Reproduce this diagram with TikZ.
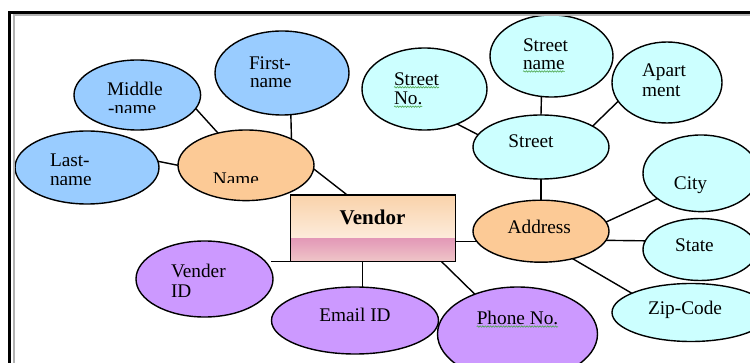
\documentclass[tikz,border=0pt]{standalone}
\usepackage{fontspec}
\setmainfont{Liberation Serif}
\usetikzlibrary{shapes.geometric,decorations.pathmorphing,calc}
\definecolor{cblue}{HTML}{99CCFF}
\definecolor{ccyan}{HTML}{CCFFFF}
\definecolor{corange}{HTML}{FCCA96}
\definecolor{cpurple}{HTML}{CC99FF}
\definecolor{vpeach}{HTML}{F9D2AA}
\definecolor{vwhite}{HTML}{FFFAF6}
\definecolor{vpink}{HTML}{E398B7}
\definecolor{vpinklt}{HTML}{EFC6C8}
\definecolor{squigc}{HTML}{4CA64C}
\newcommand\lbfont{\fontsize{19.3}{21}\selectfont}
\newcommand\vbfont{\fontsize{21}{23}\selectfont\bfseries}
\begin{document}
\begin{tikzpicture}[x=1pt,y=-1pt,
  attr/.style={draw=black, ellipse, line width=1.4pt, inner sep=0pt, outer sep=0pt},
  conn/.style={draw=black, line width=1.4pt},
  lbl/.style={inner sep=0pt, outer sep=0pt, font=\lbfont, text=black},
  squig/.style={draw=squigc, line width=0.6pt, decorate,
    decoration={snake, amplitude=0.7pt, segment length=2.6pt}},
  frameblack/.style={draw=black, line width=2.6pt},
  framegray/.style={draw=black!30, line width=1.6pt}]
\useasboundingbox (0,0) rectangle (750,363);

% --- attribute ellipses ---
\node[attr, fill=cblue, minimum width=126.6pt, minimum height=70pt] (middle) at (137.3,95) {};
\node[attr, fill=cblue, minimum width=134pt, minimum height=84pt] (first) at (282,73) {};
\node[attr, fill=cblue, minimum width=144pt, minimum height=73pt] (last) at (87,167.5) {};
\node[attr, fill=corange, minimum width=136pt, minimum height=70.6pt] (name) at (246,165.3) {};
\node[attr, fill=ccyan, minimum width=125pt, minimum height=82pt] (stno) at (424.5,89) {};
\node[attr, fill=ccyan, minimum width=123pt, minimum height=82pt] (stname) at (551.5,56) {};
\node[attr, fill=ccyan, minimum width=110pt, minimum height=81pt] (apart) at (667,82.5) {};
\node[attr, fill=ccyan, minimum width=136pt, minimum height=64pt] (street) at (541,147) {};
\node[attr, fill=ccyan, minimum width=116pt, minimum height=76.6pt] (city) at (701,173.3) {};
\node[attr, fill=corange, minimum width=136pt, minimum height=62pt] (address) at (541,231.2) {};
\node[attr, fill=ccyan, minimum width=114pt, minimum height=62pt] (state) at (700,249.5) {};
\node[attr, fill=ccyan, minimum width=158pt, minimum height=58pt] (zip) at (691,312.5) {};
\node[attr, fill=cpurple, minimum width=167pt, minimum height=67pt] (email) at (355,320.5) {};
\node[attr, fill=cpurple, minimum width=160pt, minimum height=94pt] (phone) at (517.5,334) {};
\node[attr, fill=cpurple, minimum width=137pt, minimum height=76pt] (venderid) at (204.5,279) {};

% --- entity box ---
\node[draw=black, line width=1.4pt, inner sep=0pt, outer sep=0pt,
  minimum width=165pt, minimum height=66.7pt,
  path picture={
    \shade[top color=vpeach, bottom color=vwhite]
      (path picture bounding box.north west) rectangle ([yshift=23.5pt]path picture bounding box.south east);
    \shade[top color=vpink, bottom color=vpinklt]
      ([yshift=23.5pt]path picture bounding box.south west) rectangle (path picture bounding box.south east);
  }] (vendor) at (373.2,228.3) {};

% --- connectors ---
\coordinate (vidend) at (271.3,261.65);
\draw[conn] (middle.-13) -- (name.131);
\draw[conn] (first.-78.3) -- (name.30.7);
\draw[conn] (last.5.4) -- (name.180);
\draw[conn] (name.-3) -- (vendor.128.2);
\draw[conn] (stno.-47.6) -- (street.169.4);
\draw[conn] (stname.-104.4) -- (street.north);
\draw[conn] (apart.201.4) -- (street.22.5);
\draw[conn] (street.south) -- (address.north);
\draw[conn] (city.210) -- (address.8.3);
\draw[conn] (state.171.5) -- (address.-8.9);
\draw[conn] (zip.162) -- (address.-41);
\draw[conn] (address.189.6) -- (address.189.6 -| vendor.east);
\draw[conn] (vendor.-26.6) -- (phone.137.5);
\draw[conn] (vendor.-108.5) -- (vendor.-108.5 |- email.north);
\draw[conn] (vendor.south west) -- (vidend);

% --- page frame ---
\draw[framegray] (14,363) -- (14,14.8) -- (750,14.8);
\draw[frameblack] (9.6,363) -- (9.6,12.3) -- (750,12.3);

% --- labels ---
\node[lbl, anchor=west] (tFirst1) at (249,63) {First-};
\node[lbl, anchor=west] (tFirst2) at (250,83) {name};
\node[lbl, anchor=west] (tMid1) at (107,89) {Middle};
\begin{scope}
  \clip (0,0) rectangle (750,112.3);
  \node[lbl, anchor=west] (tMid2) at (108,110) {-name};
\end{scope}
\node[lbl, anchor=west] (tLast1) at (50,160) {Last-};
\begin{scope}
  \clip (0,0) rectangle (750,184.8);
  \node[lbl, anchor=west] (tLast2) at (50,181) {name};
\end{scope}
\begin{scope}
  \clip (0,0) rectangle (750,182.8);
  \node[lbl] (tName) at (236,179) {Name};
\end{scope}
\node[lbl, anchor=west] (tStNo1) at (394,79) {Street};
\node[lbl, anchor=west] (tStNo2) at (394,98) {No.};
\node[lbl, anchor=west] (tStName1) at (523,45) {Street};
\node[lbl, anchor=west] (tStName2) at (523,65) {name};
\node[lbl, anchor=west] (tApart1) at (642,72) {Apart};
\node[lbl, anchor=west] (tApart2) at (642,91) {ment};
\node[lbl] (tStreet) at (531,141) {Street};
\node[lbl] (tCity) at (690.5,185) {City};
\node[lbl] (tAddress) at (539.3,227) {Address};
\node[lbl] (tState) at (694.5,245) {State};
\node[lbl] (tZip) at (685,310) {Zip-Code};
\node[lbl] (tPhone) at (517.5,318) {Phone No.};
\node[lbl] (tEmail) at (355,314.5) {Email ID};
\node[lbl, anchor=west] (tVid1) at (171,271) {Vender};
\node[lbl, anchor=west] (tVid2) at (171,291) {ID};
\node[inner sep=0pt, font=\vbfont] (tVendor) at (372.5,217.3) {Vendor};

% --- spelling squiggles ---
\draw[squig] ([yshift=-2pt]tStNo1.base west) -- ([yshift=-2pt]tStNo1.base east);
\draw[squig] ([yshift=-2.5pt]tStNo2.base west) -- ([yshift=-2.5pt]tStNo2.base east);
\draw[squig] ([yshift=-2pt]tStName2.base west) -- ([yshift=-2pt]tStName2.base east);
\draw[squig] ([yshift=-2pt]tPhone.base west) -- ([yshift=-2pt]tPhone.base east);
\end{tikzpicture}
\end{document}
